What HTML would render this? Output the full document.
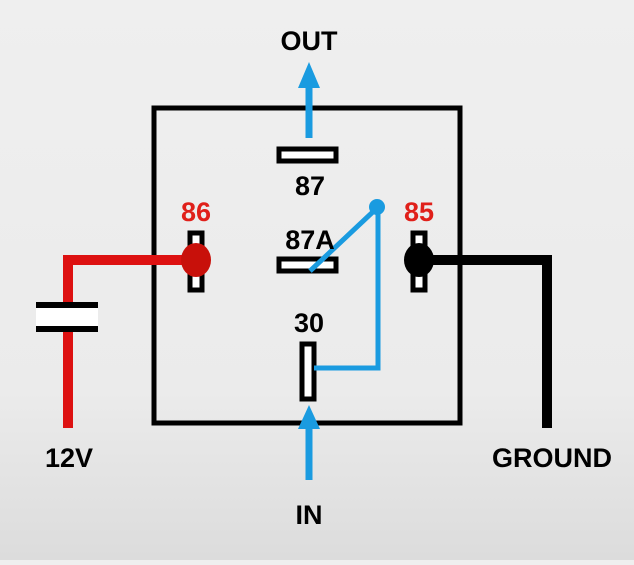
<!DOCTYPE html>
<html><head><style>
html,body{margin:0;padding:0;}
body{width:634px;height:560px;overflow:hidden;background:linear-gradient(180deg,#efefef 0%,#ebebeb 70%,#dcdcdc 100%);}
text{font-family:"Liberation Sans",sans-serif;font-weight:bold;font-size:27px;text-anchor:middle;}
</style></head><body>
<svg width="634" height="560" viewBox="0 0 634 560">
<rect x="154" y="108" width="306" height="315" fill="none" stroke="#000" stroke-width="5"/>
<polyline points="68,428 68,260 196,260" fill="none" stroke="#d11" stroke-width="10"/>
<rect x="36" y="305" width="62" height="24" fill="#fff"/>
<rect x="36" y="302" width="62" height="6" fill="#000"/>
<rect x="36" y="326" width="62" height="6" fill="#000"/>
<polyline points="419,260 547,260 547,428" fill="none" stroke="#000" stroke-width="10"/>
<rect x="190" y="233" width="12" height="57" fill="#fff" stroke="#000" stroke-width="5"/>
<ellipse cx="196" cy="260" rx="15" ry="17" fill="#c8100a"/>
<rect x="413" y="233" width="12" height="57" fill="#fff" stroke="#000" stroke-width="5"/>
<ellipse cx="419" cy="260" rx="15" ry="17" fill="#000"/>
<rect x="279" y="149" width="57" height="12" fill="#fff" stroke="#000" stroke-width="5"/>
<rect x="279" y="259" width="57" height="12" fill="#fff" stroke="#000" stroke-width="5"/>
<rect x="302" y="344" width="12" height="55" fill="#fff" stroke="#000" stroke-width="5"/>
<polyline points="310,271 377,208 378,208 378,368 314,368" fill="none" stroke="#1a9be0" stroke-width="5"/>
<circle cx="377" cy="207" r="8" fill="#1a9be0"/>
<line x1="309" y1="138" x2="309" y2="80" stroke="#1a9be0" stroke-width="7"/>
<polygon points="309,62 298,88 320,88" fill="#1a9be0"/>
<line x1="309" y1="480" x2="309" y2="420" stroke="#1a9be0" stroke-width="7"/>
<polygon points="309,405 298,429 320,429" fill="#1a9be0"/>
<text x="309" y="50">OUT</text>
<text x="310" y="195">87</text>
<text x="310" y="249">87A</text>
<text x="309" y="332">30</text>
<text x="196" y="221" fill="#e0201a">86</text>
<text x="419" y="221" fill="#e0201a">85</text>
<text x="69" y="467">12V</text>
<text x="552" y="467">GROUND</text>
<text x="309" y="524">IN</text>
</svg>
</body></html>
